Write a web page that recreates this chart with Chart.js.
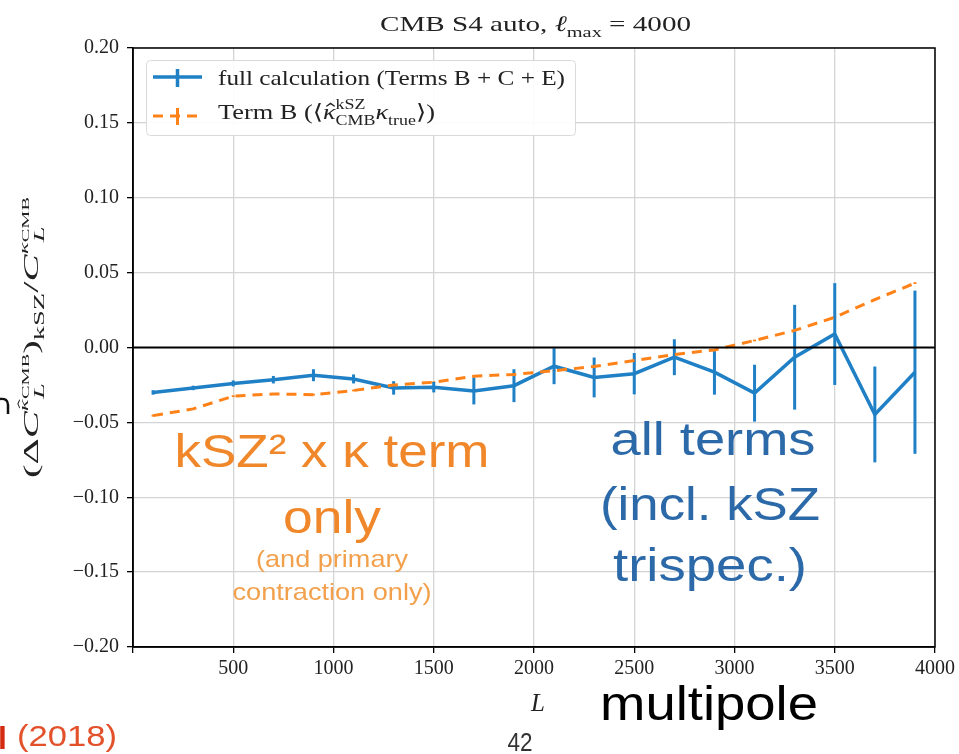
<!DOCTYPE html>
<html>
<head>
<meta charset="utf-8">
<script src="https://cdn.jsdelivr.net/npm/chart.js@4.4.1/dist/chart.umd.min.js"></script>
<style>
html, body { margin: 0; padding: 0; background: #fff; }
</style>
</head>
<body>
<canvas id="report" width="959" height="754"></canvas>
<script>
// bin centres in L and the two ratio curves
const multipoles = [100, 300, 500, 700, 900, 1100, 1300, 1500, 1700, 1900,
                    2100, 2300, 2500, 2700, 2900, 3100, 3300, 3500, 3700, 3900];
const fullCalc = [-0.030, -0.027, -0.024, -0.0215, -0.0185, -0.021, -0.027, -0.0265, -0.029, -0.0255,
                  -0.0125, -0.020, -0.0175, -0.0065, -0.0165, -0.0305, -0.0065, 0.009, -0.0447, -0.0165];
const fullCalcErr = [0.0015, 0.0015, 0.002, 0.0025, 0.004, 0.003, 0.0045, 0.0035, 0.009, 0.011,
                     0.012, 0.0133, 0.0138, 0.012, 0.015, 0.019, 0.035, 0.034, 0.032, 0.0545];
const termB = [-0.0455, -0.041, -0.0325, -0.031, -0.0315, -0.0287, -0.025, -0.0232, -0.0192, -0.018,
               -0.0155, -0.0127, -0.0087, -0.0047, -0.0016, 0.0047, 0.0114, 0.0202, 0.032, 0.043];
const termBErr = [0.0006, 0.0006, 0.0006, 0.0006, 0.0006, 0.0006, 0.0006, 0.0006, 0.0006, 0.0006,
                  0.0006, 0.0006, 0.0006, 0.0006, 0.0006, 0.0006, 0.0006, 0.0006, 0.0006, 0.0006];
const xTickValues = [0, 500, 1000, 1500, 2000, 2500, 3000, 3500, 4000];
const yTickValues = [-0.20, -0.15, -0.10, -0.05, 0.00, 0.05, 0.10, 0.15, 0.20];

const BLUE = '#1f80c6';
const ORANGE = '#ff8219';
const SERIF = "'Liberation Serif', 'DejaVu Serif', serif";
const SANS = "'Liberation Sans', Arial, sans-serif";

// text with a fixed horizontal extent (slide text is a little stretched)
function fitText(ctx, text, cx, baseline, width, font, color) {
    ctx.save();
    ctx.font = font;
    const w = ctx.measureText(text).width;
    ctx.translate(cx, baseline);
    ctx.scale(width / w, 1);
    ctx.fillStyle = color;
    ctx.textAlign = 'center';
    ctx.textBaseline = 'alphabetic';
    ctx.fillText(text, 0, 0);
    ctx.restore();
}

// math-ish runs: {t, i: italic, k: size factor, dy: shift in em, hold: next piece shares x, hat: circumflex}
function runFont(r, size) {
    return (r.i ? 'italic ' : '') + (size * (r.k || 1)).toFixed(1) + 'px ' + SERIF;
}
function runsWidth(ctx, runs, size) {
    let x = 0, held = 0;
    runs.forEach(r => {
        ctx.font = runFont(r, size);
        const w = ctx.measureText(r.t).width;
        if (r.hold) { held = Math.max(held, w); }
        else { x += Math.max(w, held); held = 0; }
    });
    return x;
}
function drawRuns(ctx, runs, x0, y0, size, width, color) {
    ctx.save();
    const natural = runsWidth(ctx, runs, size);
    ctx.translate(x0, y0);
    ctx.scale(width / natural, 1);
    ctx.fillStyle = color;
    ctx.strokeStyle = color;
    ctx.textAlign = 'left';
    ctx.textBaseline = 'alphabetic';
    let x = 0, held = 0;
    runs.forEach(r => {
        const s = size * (r.k || 1);
        const y = (r.dy || 0) * size;
        ctx.font = runFont(r, size);
        const w = ctx.measureText(r.t).width;
        ctx.fillText(r.t, x, y);
        if (r.hat) {
            const cx = x + w * 0.6;
            ctx.lineWidth = Math.max(0.8, s * 0.06);
            ctx.beginPath();
            ctx.moveTo(cx - s * 0.16, y - s * 0.6);
            ctx.lineTo(cx, y - s * 0.74);
            ctx.lineTo(cx + s * 0.16, y - s * 0.6);
            ctx.stroke();
        }
        if (r.hold) { held = Math.max(held, w); }
        else { x += Math.max(w, held); held = 0; }
    });
    ctx.restore();
}

const titleRuns = [
    {t: 'CMB S4 auto, '}, {t: 'ℓ', i: true}, {t: 'max', k: 0.7, dy: 0.25}, {t: ' = 4000'}
];
const termBRuns = [
    {t: 'Term B (⟨'}, {t: 'κ', i: true, hat: true},
    {t: 'kSZ', k: 0.68, dy: -0.48, hold: true}, {t: 'CMB', k: 0.68, dy: 0.28},
    {t: 'κ', i: true}, {t: 'true', k: 0.68, dy: 0.28}, {t: '⟩)'}
];
const yLabelRuns = [
    {t: '(Δ'}, {t: 'C', i: true},
    {t: 'κ', i: true, k: 0.62, dy: -0.5, hat: true}, {t: 'CMB', k: 0.5, dy: -0.42, hold: true},
    {t: 'L', i: true, k: 0.7, dy: 0.3},
    {t: ')'}, {t: 'kSZ', k: 0.7, dy: 0.3}, {t: '/'}, {t: 'C', i: true},
    {t: 'κ', i: true, k: 0.62, dy: -0.5}, {t: 'CMB', k: 0.5, dy: -0.42, hold: true},
    {t: 'L', i: true, k: 0.7, dy: 0.3}
];

const errorBars = {
    id: 'errorBars',
    beforeDatasetsDraw(chart) {
        const ctx = chart.ctx, xs = chart.scales.x, ys = chart.scales.y;
        chart.data.datasets.slice().reverse().forEach(ds => {
            ctx.save();
            ctx.strokeStyle = ds.borderColor;
            ctx.lineWidth = 3;
            ds.data.forEach((p, i) => {
                const x = xs.getPixelForValue(p.x);
                ctx.beginPath();
                ctx.moveTo(x, ys.getPixelForValue(p.y - ds.errors[i]));
                ctx.lineTo(x, ys.getPixelForValue(p.y + ds.errors[i]));
                ctx.stroke();
            });
            ctx.restore();
        });
    },
    afterDatasetsDraw(chart) {
        // zero line and the full frame
        const ctx = chart.ctx, a = chart.chartArea, ys = chart.scales.y;
        const y0 = ys.getPixelForValue(0);
        ctx.save();
        ctx.strokeStyle = '#000';
        ctx.lineWidth = 2.2;
        ctx.beginPath();
        ctx.moveTo(a.left, y0);
        ctx.lineTo(a.right, y0);
        ctx.stroke();
        ctx.lineWidth = 1.5;
        ctx.strokeRect(a.left, a.top, a.right - a.left, a.bottom - a.top);
        ctx.restore();
    }
};

const decorations = {
    id: 'decorations',
    afterDraw(chart) {
        const ctx = chart.ctx;

        drawRuns(ctx, titleRuns, 380, 31, 22, 311, '#222');

        // legend box
        ctx.save();
        ctx.fillStyle = 'rgba(255,255,255,0.9)';
        ctx.strokeStyle = '#dadada';
        ctx.lineWidth = 1;
        ctx.beginPath();
        ctx.roundRect(146.5, 60.5, 429, 75, 4);
        ctx.fill();
        ctx.stroke();

        ctx.lineWidth = 3.5;
        ctx.strokeStyle = BLUE;
        ctx.beginPath();
        ctx.moveTo(153, 77); ctx.lineTo(202, 77);
        ctx.moveTo(177.5, 69); ctx.lineTo(177.5, 87);
        ctx.stroke();

        ctx.strokeStyle = ORANGE;
        ctx.lineWidth = 3;
        ctx.setLineDash([10, 7]);
        ctx.beginPath();
        ctx.moveTo(153, 116); ctx.lineTo(202, 116);
        ctx.stroke();
        ctx.setLineDash([]);
        ctx.beginPath();
        ctx.moveTo(177.5, 108); ctx.lineTo(177.5, 125);
        ctx.stroke();
        ctx.restore();

        fitText(ctx, 'full calculation (Terms B + C + E)', 218 + 347 / 2, 85, 347, '21px ' + SERIF, '#222');
        drawRuns(ctx, termBRuns, 218, 119, 21, 217, '#222');

        // rotated y label
        ctx.save();
        ctx.translate(38, 478);
        ctx.rotate(-Math.PI / 2);
        drawRuns(ctx, yLabelRuns, 0, 0, 21, 281, '#222');
        ctx.restore();

        // x label
        ctx.save();
        ctx.font = 'italic 25px ' + SERIF;
        ctx.fillStyle = '#222';
        ctx.textAlign = 'center';
        ctx.fillText('L', 538, 711);
        ctx.restore();

        // slide annotations
        fitText(ctx, 'kSZ² x κ term', 332, 467, 315, '46px ' + SANS, '#f0872a');
        fitText(ctx, 'only', 332, 533, 98, '46px ' + SANS, '#f0872a');
        fitText(ctx, '(and primary', 332, 567, 152, '24px ' + SANS, '#f3a04c');
        fitText(ctx, 'contraction only)', 332, 600, 199, '24px ' + SANS, '#f3a04c');

        fitText(ctx, 'all terms', 713, 455, 205, '46px ' + SANS, '#2c69a8');
        fitText(ctx, '(incl. kSZ', 710, 520, 220, '46px ' + SANS, '#2c69a8');
        fitText(ctx, 'trispec.)', 710, 581, 194, '46px ' + SANS, '#2c69a8');

        fitText(ctx, 'multipole', 709, 720, 218, '48px ' + SANS, '#000');
        fitText(ctx, '42', 520, 751, 25, '25px ' + SANS, '#333');

        // clipped slide fragments at the left edge
        ctx.save();
        ctx.fillStyle = '#d42a12';
        ctx.font = 'bold 32px ' + SANS;
        ctx.fillText('l', -2, 749);
        ctx.restore();
        fitText(ctx, '(2018)', 67, 746, 100, '30px ' + SANS, '#e2512a');

        ctx.save();
        ctx.strokeStyle = '#111';
        ctx.lineWidth = 2.5;
        ctx.beginPath();
        ctx.moveTo(0, 399);
        ctx.quadraticCurveTo(8, 398, 8, 405);
        ctx.lineTo(8, 414);
        ctx.stroke();
        ctx.restore();
    }
};

const ctx = document.getElementById('report').getContext('2d');
const report_container = new Chart(ctx, {
    type: 'line',
    data: {
        datasets: [{
            label: 'full calculation (Terms B + C + E)',
            data: multipoles.map((L, i) => ({x: L, y: fullCalc[i]})),
            errors: fullCalcErr,
            borderColor: BLUE,
            borderWidth: 3.5,
            pointRadius: 0,
            tension: 0,
            order: 2
        }, {
            label: 'Term B',
            data: multipoles.map((L, i) => ({x: L, y: termB[i]})),
            errors: termBErr,
            borderColor: ORANGE,
            borderWidth: 3,
            borderDash: [10, 7],
            pointRadius: 0,
            tension: 0,
            order: 1
        }]
    },
    options: {
        responsive: false,
        animation: false,
        layout: {padding: {left: 0, top: 48, right: 22, bottom: 0}},
        plugins: {
            legend: {display: false},
            tooltip: {enabled: false}
        },
        scales: {
            x: {
                type: 'linear',
                min: 0,
                max: 4000,
                afterBuildTicks: axis => { axis.ticks = xTickValues.map(v => ({value: v})); },
                afterFit: axis => { axis.height = 107; },
                ticks: {
                    callback: v => v === 0 ? '' : String(v),
                    maxRotation: 0,
                    autoSkip: false,
                    padding: 4,
                    color: '#222',
                    font: {family: SERIF, size: 20}
                },
                grid: {color: '#d4d4d4', lineWidth: 1.3, tickColor: '#000', tickLength: 6},
                border: {color: '#000', width: 1.5}
            },
            y: {
                min: -0.2,
                max: 0.2,
                afterBuildTicks: axis => { axis.ticks = yTickValues.map(v => ({value: v})); },
                afterFit: axis => { axis.width = 133; },
                ticks: {
                    callback: v => (v < -1e-9 ? '−' : '') + Math.abs(v).toFixed(2),
                    autoSkip: false,
                    padding: 8,
                    color: '#222',
                    font: {family: SERIF, size: 20}
                },
                grid: {color: '#d4d4d4', lineWidth: 1.3, tickColor: '#000', tickLength: 6},
                border: {color: '#000', width: 1.5}
            }
        }
    },
    plugins: [errorBars, decorations]
});
</script>
</body>
</html>
